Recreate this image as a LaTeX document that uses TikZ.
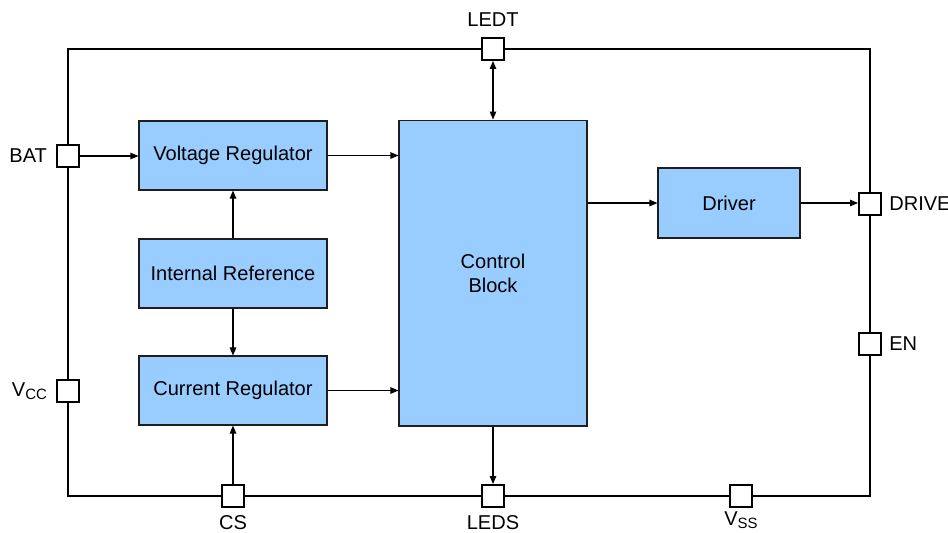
\documentclass[tikz,border=0pt]{standalone}
\usepackage{fontspec}
\setmainfont{Liberation Sans}
\usetikzlibrary{positioning,arrows.meta,calc}
\definecolor{BlockBlue}{RGB}{153,204,255}
\definecolor{EdgeGray}{RGB}{30,30,30}
\newcommand{\sublbl}[2]{#1\raisebox{-0.3ex}{\fontsize{8.5}{9}\selectfont #2}}
\tikzset{
  flow/.style={-{Triangle[length=1.6mm,width=1.3mm]},line width=0.6pt,draw=black},
  dualflow/.style={{Triangle[length=1.6mm,width=1.3mm]}-{Triangle[length=1.6mm,width=1.3mm]},line width=0.6pt,draw=black},
  block/.style={draw=EdgeGray,fill=BlockBlue,line width=0.6pt,align=center,
    minimum width=3.76cm,minimum height=1.38cm,inner sep=0pt,font=\fontsize{11.4}{13.5}\selectfont},
  pinbox/.style={draw=black,fill=white,line width=1.1pt,minimum size=0.44cm,inner sep=0pt},
  pinlbl/.style={font=\fontsize{11.4}{14}\selectfont,inner sep=1pt}
}
\begin{document}
\begin{tikzpicture}[x=0.02cm,y=-0.02cm]
  \useasboundingbox (0,0) rectangle (948,532);
  % package outline
  \draw[line width=1.1pt] (68,49) rectangle (870,496);
  % blocks
  \node[block] (vreg) at (233,155.5) {Voltage Regulator};
  \node[block] (iref) at (233,273.5) {Internal Reference};
  \node[block] (creg) at (233,390.5) {Current Regulator};
  \node[block,minimum height=6.12cm] (ctrl) at (493,273) {Control\\Block};
  \node[block,minimum width=2.84cm,minimum height=1.4cm] (drv) at (729,203) {Driver};
  % pins
  \node[pinbox] (bat) at (68,156) {};
  \node[pinbox] (vcc) at (68,391) {};
  \node[pinbox] (ledt) at (493,49) {};
  \node[pinbox] (cs) at (233,496) {};
  \node[pinbox] (leds) at (493,496) {};
  \node[pinbox] (vss) at (741,496) {};
  \node[pinbox] (drive) at (870,204) {};
  \node[pinbox] (en) at (870,344) {};
  % pin labels
  \node[pinlbl,left=4pt of bat] {BAT};
  \node[pinlbl,left=4pt of vcc] {\sublbl{V}{CC}};
  \node[pinlbl,above=5pt of ledt] {LEDT};
  \node[pinlbl,below=3pt of cs] {CS};
  \node[pinlbl,below=3pt of leds] {LEDS};
  \node[pinlbl,below=1pt of vss] {\sublbl{V}{SS}};
  \node[pinlbl,right=3pt of drive] {DRIVE};
  \node[pinlbl,right=3pt of en] {EN};
  % signal paths
  \draw[flow] (bat.east) -- (vreg.west |- bat.east);
  \draw[flow] (vreg.east) -- (vreg.east -| ctrl.west);
  \draw[flow] (creg.east) -- (creg.east -| ctrl.west);
  \draw[flow] (iref.north) -- (vreg.south);
  \draw[flow] (iref.south) -- (creg.north);
  \draw[flow] (cs.north) -- (creg.south);
  \draw[dualflow] (ledt.south) -- (ctrl.north);
  \draw[flow] (ctrl.south) -- (leds.north);
  \draw[flow] (drv.west -| ctrl.east) -- (drv.west);
  \draw[flow] (drv.east) -- (drive.west |- drv.east);
\end{tikzpicture}
\end{document}
